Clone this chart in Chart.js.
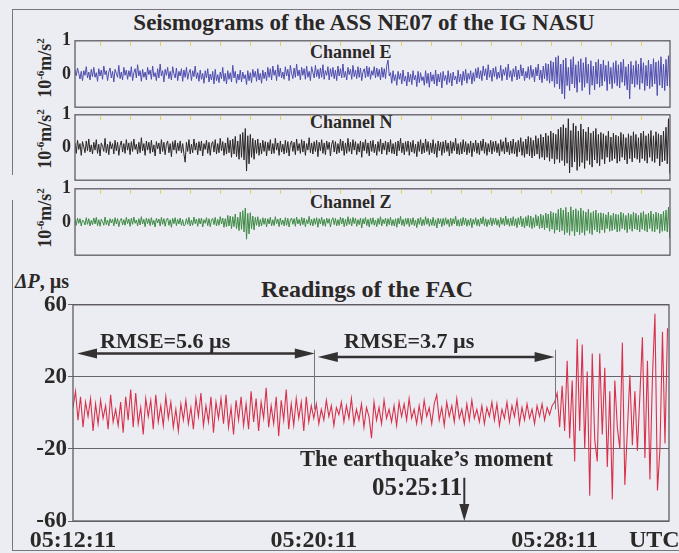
<!DOCTYPE html>
<html lang="en">
<head>
<meta charset="UTF-8">
<title>Seismograms of the ASS NE07 and readings of the FAC</title>
<script src="https://cdn.jsdelivr.net/npm/chart.js@4.4.4/dist/chart.umd.min.js"></script>
<style>
  html, body { margin: 0; padding: 0; }
  body {
    width: 679px; height: 553px; position: relative; overflow: hidden;
    background: #ecedf2; color: #2b2828;
    font-family: 'Liberation Serif', 'DejaVu Serif', serif; font-weight: bold;
  }
  canvas { position: absolute; left: 0; }
  .txt { position: absolute; white-space: nowrap; line-height: 1; }
  .unit { position: absolute; white-space: nowrap; line-height: 1; font-size: 18px; transform: translate(-50%, -50%) rotate(-90deg); }
  .unit sup { font-size: 11px; vertical-align: 7px; }
  .rule { position: absolute; background: #77767c; }
</style>
</head>
<body>

<div class="rule" style="left:12px; top:9px; width:667px; height:1px"></div>
<div class="rule" style="left:12px; top:9px; width:1px; height:166px"></div>
<div class="rule" style="left:12px; top:200px; width:1px; height:350px"></div>
<div class="rule" style="left:12px; top:550px; width:667px; height:1px"></div>

<div class="txt" style="left:364px; top:11px; font-size:23px; transform:translateX(-50%)">Seismograms of the ASS NE07 of the IG NASU</div>
<div class="txt" style="left:310px; top:43px; font-size:18px">Channel E</div>
<div class="txt" style="left:310px; top:113px; font-size:18px">Channel N</div>
<div class="txt" style="left:310px; top:193px; font-size:18px">Channel Z</div>

<div class="unit" style="left:44px; top:68px">10<sup>-6</sup>m/s<sup>2</sup></div>
<div class="unit" style="left:44px; top:139px">10<sup>-6</sup>m/s<sup>2</sup></div>
<div class="unit" style="left:44px; top:218px">10<sup>-6</sup>m/s<sup>2</sup></div>

<canvas id="chE" width="679" height="96" style="top:26px"></canvas>
<canvas id="chN" width="679" height="95" style="top:100px"></canvas>
<canvas id="chZ" width="679" height="96" style="top:174px"></canvas>

<div class="txt" style="left:15px; top:271px; font-size:20px"><i>ΔP</i>, µs</div>
<div class="txt" style="left:367px; top:277px; font-size:24px; transform:translateX(-50%)">Readings of the FAC</div>

<canvas id="fac" width="679" height="263" style="top:290px"></canvas>

<div class="txt" style="left:100px; top:330px; font-size:22px">RMSE=5.6 µs</div>
<div class="txt" style="left:344px; top:330px; font-size:22px">RMSE=3.7 µs</div>
<div class="txt" style="left:300px; top:448px; font-size:22.5px">The earthquake’s moment</div>
<div class="txt" style="left:372px; top:474px; font-size:25px">05:25:11</div>
<div class="txt" style="left:629px; top:527px; font-size:24px">UTC</div>

<script>
// time axis: seconds from 05:12:11 UTC
const TIME_SPAN_S = 1188;
const SEISMO_STEP_S = 2.5;
const FAC_STEP_S = 5;

const facTimeTicks = [0, 480, 960];
const facTimeLabels = ['05:12:11', '05:20:11', '05:28:11'];
const facValueTicks = [-60, -20, 20, 60];
const seismoValueTicks = [0, 1];

// RMSE brackets and the quake marker, in seconds and µs
const rmseSpans = [[8, 482], [488, 960]];
const rmseLevels = [33, 31];
const sectionBounds = [480, 960];
const quakeTime = 780;

// Channel E, 10^-6 m/s^2
const channelE = [
  0.12,-0.05,0.18,0.02,-0.15,0.08,-0.2,0.1,-0.04,0.22,-0.12,0.06,-0.18,0.14,
  -0.08,0.2,-0.1,0.04,-0.22,0.16,-0.06,0.12,-0.16,0.24,-0.02,0.1,-0.2,0.06,
  0.18,-0.12,0.08,-0.24,0.14,0.02,-0.1,0.26,-0.14,0.06,-0.18,0.2,-0.04,0.12,
  -0.16,0.1,-0.08,0.22,-0.2,0.04,0.16,-0.12,0.28,-0.06,0.1,-0.22,0.14,-0.1,
  0.06,-0.18,0.2,-0.02,0.12,-0.16,0.24,-0.08,0.04,-0.2,0.16,-0.12,0.3,-0.06,
  0.1,-0.24,0.14,-0.04,0.2,-0.14,0.08,-0.18,0.22,0.0,-0.12,0.18,-0.2,0.08,
  -0.06,0.16,-0.22,0.12,-0.1,0.2,-0.16,0.04,0.14,-0.2,0.1,-0.08,0.24,-0.14,
  0.04,-0.22,0.12,-0.16,0.02,-0.28,0.1,-0.12,0.16,-0.24,0.0,-0.18,0.08,-0.3,
  0.14,-0.2,-0.02,-0.26,0.06,-0.14,0.2,-0.22,0.02,-0.3,0.1,-0.16,0.04,-0.24,
  0.26,-0.12,0.08,-0.28,0.0,-0.18,0.12,-0.24,0.06,-0.14,-0.02,-0.32,0.1,-0.2,
  0.04,-0.26,0.14,-0.1,0.08,-0.22,0.16,-0.18,0.02,-0.28,0.12,-0.14,0.06,-0.2,
  0.2,-0.1,0.16,-0.18,0.24,-0.04,0.12,-0.2,0.28,-0.08,0.18,-0.12,0.06,-0.16,
  0.22,-0.06,0.14,-0.2,0.26,0.02,-0.14,0.18,-0.1,0.3,-0.06,0.12,-0.18,0.2,
  -0.04,0.16,-0.16,0.24,-0.1,0.08,-0.2,0.22,0.04,-0.12,0.26,-0.08,0.14,-0.14,
  0.18,-0.1,0.28,-0.16,0.1,-0.04,0.22,-0.18,0.16,-0.08,0.2,-0.14,0.12,-0.2,
  0.24,-0.06,0.16,-0.12,0.3,-0.1,0.08,-0.18,0.2,-0.02,0.14,-0.16,0.26,-0.08,
  0.12,-0.14,0.22,-0.1,0.18,-0.2,0.06,0.16,-0.12,0.24,-0.08,0.2,-0.16,0.1,
  -0.04,0.22,-0.12,0.18,-0.08,0.14,-0.18,0.2,-0.1,0.16,-0.14,0.26,0.42,-0.06,
  0.04,-0.28,0.1,-0.2,-0.02,-0.34,0.08,-0.16,0.02,-0.3,0.12,-0.22,-0.06,-0.36,
  0.06,-0.24,0.0,-0.32,0.1,-0.18,-0.04,-0.38,0.08,-0.26,0.04,-0.2,-0.08,-0.34,
  0.1,-0.28,0.02,-0.4,0.06,-0.22,-0.02,-0.3,0.12,-0.36,0.0,-0.24,0.04,-0.42,
  0.08,-0.2,-0.04,-0.32,0.1,-0.26,0.02,-0.36,0.06,-0.18,-0.06,-0.3,0.12,-0.24,
  0.0,-0.34,0.08,-0.2,0.14,-0.28,0.02,-0.16,0.1,-0.3,0.04,-0.22,0.16,-0.12,
  0.2,-0.14,0.1,-0.2,0.24,-0.06,0.16,-0.18,0.28,-0.1,0.12,-0.22,0.18,-0.08,
  0.22,-0.16,0.06,-0.12,0.26,-0.2,0.14,-0.04,0.2,-0.18,0.3,-0.1,0.1,-0.22,
  0.16,-0.08,0.24,-0.18,0.12,-0.14,0.28,-0.06,0.18,-0.2,0.08,-0.12,0.22,-0.16,
  0.26,-0.1,0.14,-0.24,0.2,-0.06,0.3,-0.18,0.12,-0.26,0.24,-0.14,0.32,-0.2,
  0.3,-0.28,0.4,-0.22,0.36,-0.4,0.5,-0.3,0.55,-0.45,0.3,-0.6,0.42,-0.75,
  0.48,-0.35,0.2,-0.5,0.44,-0.3,0.52,-0.42,0.28,-0.55,0.38,-0.25,0.46,-0.5,
  0.34,-0.4,0.5,-0.28,0.3,-0.62,0.4,-0.34,0.24,-0.48,0.36,-0.3,0.44,-0.4,
  0.3,-0.36,0.42,-0.22,0.26,-0.5,0.38,-0.3,0.2,-0.44,0.34,-0.28,0.4,-0.36,
  0.28,-0.42,0.36,-0.25,0.44,-0.35,0.22,-0.48,0.3,-0.75,0.38,-0.3,0.26,-0.4,
  0.4,-0.32,0.3,-0.46,0.48,-0.28,0.34,-0.5,0.26,-0.36,0.42,-0.44,0.3,-0.38,
  0.46,-0.3,0.36,-0.65,0.4,-0.34,0.52,-0.42,0.3,-0.5,0.44,-0.36,0.55,-0.4
];

// Channel N, 10^-6 m/s^2
const channelN = [
  0.14,-0.18,0.22,-0.06,0.12,-0.24,0.18,0.02,-0.16,0.2,-0.1,0.26,-0.14,0.08,
  -0.2,0.16,-0.08,0.24,-0.18,0.1,-0.26,0.14,0.04,-0.12,0.28,-0.16,0.1,-0.22,
  0.18,-0.04,0.12,-0.2,0.22,-0.1,0.16,-0.24,0.06,0.2,-0.14,0.12,-0.18,0.24,
  -0.08,0.14,-0.22,0.18,-0.12,0.26,-0.06,0.1,-0.2,0.16,-0.16,0.3,-0.1,0.12,
  -0.24,0.2,-0.08,0.16,-0.18,0.22,-0.14,0.08,-0.26,0.18,-0.04,0.14,-0.2,0.24,
  -0.12,0.16,-0.22,0.1,0.2,-0.16,0.12,-0.28,0.18,-0.08,0.22,-0.18,0.14,-0.1,
  0.2,-0.16,0.12,-0.2,-0.45,0.16,-0.12,0.24,-0.2,0.1,-0.16,0.26,-0.08,0.14,
  -0.22,0.18,-0.1,0.2,-0.26,0.12,-0.06,0.22,-0.18,0.16,-0.24,0.1,0.18,-0.14,
  0.24,-0.2,0.12,-0.16,0.28,-0.1,0.18,-0.24,0.14,-0.2,0.3,-0.16,0.22,-0.3,
  0.26,-0.2,0.34,-0.28,0.2,-0.36,0.4,-0.3,0.46,-0.38,0.58,-0.72,0.36,-0.5,
  0.4,-0.3,0.28,-0.36,0.22,-0.18,0.26,-0.24,0.14,-0.2,0.22,-0.12,0.18,-0.26,
  0.16,-0.1,0.24,-0.2,0.12,-0.18,0.28,-0.08,0.14,-0.24,0.2,-0.14,0.1,-0.2,
  0.22,-0.16,0.18,-0.26,0.1,0.2,-0.12,0.16,-0.22,0.26,-0.1,0.12,-0.18,0.24,
  -0.14,0.2,-0.24,0.12,-0.08,0.3,-0.16,0.14,-0.2,0.18,-0.12,0.22,-0.28,0.16,
  -0.1,0.24,-0.18,0.14,-0.22,0.2,-0.06,0.16,-0.26,0.1,0.22,-0.14,0.18,-0.2,
  0.12,-0.16,0.26,-0.1,0.2,-0.24,0.14,-0.18,0.28,-0.12,0.16,-0.2,0.24,-0.08,
  0.18,-0.22,0.12,-0.14,0.2,-0.3,0.16,-0.1,0.24,-0.18,0.14,-0.26,0.2,-0.12,
  0.22,-0.16,0.1,-0.24,0.18,-0.12,0.26,-0.2,0.14,-0.08,0.2,-0.22,0.16,-0.14,
  0.24,-0.18,0.12,-0.2,0.16,-0.26,0.2,-0.1,0.28,-0.16,0.14,-0.22,0.18,-0.12,
  0.2,-0.24,0.16,-0.14,0.22,-0.18,0.1,-0.28,0.18,-0.12,0.24,-0.2,0.14,-0.16,
  0.26,-0.12,0.18,-0.22,0.14,-0.16,0.24,-0.2,0.12,-0.3,0.2,-0.1,0.16,-0.24,
  0.18,-0.16,0.22,-0.12,0.14,-0.26,0.2,-0.18,0.16,-0.1,0.28,-0.2,0.12,-0.22,
  0.16,-0.2,0.24,-0.14,0.18,-0.22,0.12,-0.16,0.2,-0.28,0.14,-0.12,0.22,-0.18,
  0.14,-0.22,0.2,-0.1,0.26,-0.18,0.16,-0.24,0.12,-0.14,0.22,-0.2,0.18,-0.12,
  0.2,-0.16,0.12,-0.26,0.24,-0.12,0.18,-0.2,0.3,-0.14,0.16,-0.22,0.2,-0.18,
  0.26,-0.2,0.16,-0.28,0.22,-0.14,0.3,-0.24,0.18,-0.3,0.26,-0.2,0.34,-0.26,
  0.3,-0.32,0.22,-0.26,0.36,-0.2,0.28,-0.34,0.4,-0.3,0.32,-0.38,0.44,-0.3,
  0.36,-0.42,0.5,-0.34,0.44,-0.5,0.4,-0.36,0.56,-0.46,0.62,-0.4,0.7,-0.55,
  0.6,-0.48,0.88,-0.78,0.52,-0.6,0.74,-0.44,0.66,-0.7,0.5,-0.58,0.72,-0.46,
  0.56,-0.64,0.48,-0.4,0.62,-0.52,0.44,-0.6,0.5,-0.38,0.58,-0.48,0.4,-0.56,
  0.46,-0.36,0.42,-0.5,0.36,-0.3,0.5,-0.44,0.32,-0.4,0.44,-0.34,0.38,-0.48,
  0.34,-0.42,0.46,-0.3,0.4,-0.38,0.3,-0.5,0.42,-0.34,0.36,-0.44,0.48,-0.32,
  0.4,-0.36,0.3,-0.46,0.44,-0.34,0.5,-0.4,0.36,-0.48,0.42,-0.3,0.52,-0.42,
  0.36,-0.46,0.48,-0.34,0.42,-0.56,0.38,-0.44,0.5,-0.4,0.62,-0.5,0.88,-0.8
];

// Channel Z, 10^-6 m/s^2
const channelZ = [
  0.08,-0.1,0.12,-0.04,0.1,-0.12,0.06,0.02,-0.09,0.13,-0.07,0.1,-0.12,0.05,
  -0.08,0.12,-0.06,0.14,-0.11,0.07,-0.13,0.09,0.01,-0.1,0.15,-0.08,0.06,-0.12,
  0.1,-0.03,0.08,-0.12,0.13,-0.06,0.1,-0.14,0.04,0.11,-0.09,0.07,-0.1,0.14,
  -0.05,0.09,-0.13,0.11,-0.07,0.15,-0.04,0.06,-0.12,0.1,-0.09,0.16,-0.06,0.08,
  -0.14,0.12,-0.05,0.1,-0.11,0.13,-0.08,0.05,-0.15,0.11,-0.03,0.09,-0.12,0.14,
  -0.07,0.1,-0.13,0.06,0.12,-0.1,0.07,-0.16,0.11,-0.05,0.13,-0.11,0.08,-0.06,
  0.12,-0.1,0.07,-0.12,-0.08,0.1,-0.07,0.14,-0.12,0.06,-0.1,0.15,-0.05,0.09,
  -0.13,0.11,-0.06,0.12,-0.15,0.07,-0.04,0.13,-0.11,0.1,-0.14,0.06,0.11,-0.08,
  0.14,-0.12,0.08,-0.1,0.16,-0.06,0.12,-0.16,0.1,-0.14,0.2,-0.12,0.18,-0.2,
  0.16,-0.14,0.24,-0.2,0.14,-0.26,0.3,-0.22,0.34,-0.3,0.42,-0.52,0.26,-0.36,
  0.28,-0.2,0.18,-0.24,0.14,-0.1,0.16,-0.14,0.08,-0.12,0.13,-0.07,0.11,-0.15,
  0.1,-0.06,0.14,-0.12,0.07,-0.11,0.16,-0.05,0.09,-0.14,0.12,-0.08,0.06,-0.12,
  0.13,-0.1,0.11,-0.15,0.06,0.12,-0.07,0.1,-0.13,0.15,-0.06,0.08,-0.11,0.14,
  -0.08,0.12,-0.14,0.07,-0.05,0.17,-0.1,0.08,-0.12,0.11,-0.07,0.13,-0.16,0.1,
  -0.06,0.14,-0.11,0.08,-0.13,0.12,-0.04,0.1,-0.15,0.06,0.13,-0.08,0.11,-0.12,
  0.07,-0.1,0.15,-0.06,0.12,-0.14,0.08,-0.11,0.16,-0.07,0.1,-0.12,0.14,-0.05,
  0.11,-0.13,0.07,-0.08,0.12,-0.18,0.1,-0.06,0.14,-0.11,0.08,-0.15,0.12,-0.07,
  0.13,-0.1,0.06,-0.14,0.11,-0.07,0.16,-0.12,0.08,-0.05,0.12,-0.13,0.1,-0.08,
  0.14,-0.11,0.07,-0.12,0.1,-0.16,0.12,-0.06,0.17,-0.1,0.08,-0.13,0.11,-0.07,
  0.12,-0.14,0.1,-0.08,0.13,-0.11,0.06,-0.17,0.11,-0.07,0.14,-0.12,0.08,-0.1,
  0.16,-0.07,0.11,-0.13,0.08,-0.1,0.14,-0.12,0.07,-0.18,0.12,-0.06,0.1,-0.14,
  0.11,-0.1,0.13,-0.07,0.08,-0.15,0.12,-0.11,0.1,-0.06,0.17,-0.12,0.07,-0.13,
  0.1,-0.12,0.14,-0.08,0.11,-0.13,0.07,-0.1,0.12,-0.17,0.08,-0.07,0.13,-0.11,
  0.08,-0.13,0.12,-0.06,0.16,-0.11,0.1,-0.14,0.07,-0.08,0.13,-0.12,0.11,-0.07,
  0.12,-0.1,0.07,-0.16,0.14,-0.07,0.11,-0.12,0.18,-0.08,0.1,-0.13,0.12,-0.11,
  0.16,-0.12,0.1,-0.17,0.13,-0.08,0.18,-0.14,0.11,-0.18,0.16,-0.12,0.2,-0.16,
  0.18,-0.2,0.13,-0.16,0.22,-0.12,0.17,-0.2,0.24,-0.18,0.2,-0.23,0.27,-0.18,
  0.24,-0.28,0.32,-0.22,0.28,-0.34,0.26,-0.24,0.38,-0.3,0.42,-0.26,0.36,-0.38,
  0.44,-0.32,0.3,-0.4,0.46,-0.28,0.36,-0.42,0.4,-0.3,0.34,-0.38,0.42,-0.32,
  0.34,-0.4,0.3,-0.26,0.38,-0.34,0.28,-0.38,0.32,-0.24,0.36,-0.3,0.26,-0.34,
  0.28,-0.24,0.26,-0.32,0.22,-0.2,0.3,-0.28,0.2,-0.26,0.27,-0.22,0.24,-0.3,
  0.22,-0.28,0.3,-0.2,0.26,-0.24,0.2,-0.32,0.27,-0.22,0.23,-0.28,0.3,-0.21,
  0.26,-0.24,0.2,-0.3,0.28,-0.22,0.32,-0.26,0.23,-0.3,0.27,-0.2,0.33,-0.28,
  0.24,-0.3,0.3,-0.22,0.27,-0.34,0.24,-0.28,0.32,-0.26,0.36,-0.3,0.45,-0.5
];

// FAC readings, ΔP in µs
const facDeltaP = [
  3,12,-4,9,-8,6,-2,8,-10,5,-6,7,
  -3,4,-9,10,-5,2,-7,6,-11,9,-4,13,
  -8,11,-6,3,-12,8,-2,7,-9,10,-5,4,
  -7,9,-3,6,-8,2,-10,5,-4,7,-6,3,
  -9,8,-2,11,-7,4,-5,9,-11,6,-3,8,
  -6,10,-8,3,-12,7,-4,9,-7,5,-9,12,
  -5,8,-10,6,-3,14,-8,4,-6,9,-13,7,
  -4,13,-9,5,-7,8,-3,6,-10,9,-5,4,
  -3,5,-6,2,-4,7,-2,4,-7,3,-1,6,
  -5,4,-3,8,-6,2,-4,5,-8,3,-2,-14,
  6,-4,3,-6,7,-3,2,-5,4,-7,6,-2,
  5,-4,8,-3,2,-6,4,-5,7,-2,3,-6,
  5,10,-4,3,-7,6,-2,4,-5,8,-3,2,
  -6,5,-4,7,-3,2,-5,4,-6,3,-2,6,
  -4,5,-7,2,-3,6,-5,4,-2,7,-6,3,
  -4,5,-3,2,-6,4,-2,5,-4,3,-1,4,
  6,11,-8,15,-10,29,-14,18,-27,41,-10,38,
  -20,23,-46,33,-15,-27,33,-12,25,-30,12,-48,
  18,-8,-20,39,-40,-10,21,-18,12,-21,10,42,
  -25,29,-37,20,55,-43,-20,45,-17,47
];

const SERIF = 'Liberation Serif';

function toPoints(values, step) {
    return values.map((v, i) => ({ x: i * step, y: v }));
}

function drawArrowHead(ctx, tipX, tipY, dirX, dirY, len, half) {
    const bx = tipX - dirX * len;
    const by = tipY - dirY * len;
    ctx.beginPath();
    ctx.moveTo(tipX, tipY);
    ctx.lineTo(bx - dirY * half, by + dirX * half);
    ctx.lineTo(bx + dirY * half, by - dirX * half);
    ctx.closePath();
    ctx.fill();
}

// box round the plot area, plus the yellow minute marks on the seismograms
const panelFrame = {
    id: 'panelFrame',
    afterDatasetsDraw(chart, args, opts) {
        const { ctx, chartArea: a } = chart;
        ctx.save();
        ctx.strokeStyle = '#5f5c62';
        ctx.lineWidth = 1.3;
        ctx.strokeRect(a.left, a.top, a.right - a.left, a.bottom - a.top);
        if (opts.minuteMarks) {
            ctx.strokeStyle = '#e2d247';
            ctx.lineWidth = 1;
            for (let t = 50; t < TIME_SPAN_S; t += 60) {
                const px = Math.round(chart.scales.x.getPixelForValue(t)) + 0.5;
                ctx.beginPath();
                ctx.moveTo(px, a.top + 1);
                ctx.lineTo(px, a.top + 5);
                ctx.stroke();
            }
        }
        ctx.restore();
    },
};

const facMarks = {
    id: 'facMarks',
    afterDatasetsDraw(chart) {
        const { ctx } = chart;
        const xs = chart.scales.x;
        const ys = chart.scales.y;
        ctx.save();

        ctx.strokeStyle = '#77767c';
        ctx.lineWidth = 1;
        sectionBounds.forEach((t) => {
            const px = Math.round(xs.getPixelForValue(t)) + 0.5;
            ctx.beginPath();
            ctx.moveTo(px, ys.getPixelForValue(35));
            ctx.lineTo(px, ys.getPixelForValue(2));
            ctx.stroke();
        });

        ctx.strokeStyle = '#343132';
        ctx.fillStyle = '#343132';
        ctx.lineWidth = 2.5;
        rmseSpans.forEach(([t0, t1], k) => {
            const x0 = xs.getPixelForValue(t0);
            const x1 = xs.getPixelForValue(t1);
            const py = ys.getPixelForValue(rmseLevels[k]);
            ctx.beginPath();
            ctx.moveTo(x0 + 10, py);
            ctx.lineTo(x1 - 10, py);
            ctx.stroke();
            drawArrowHead(ctx, x0, py, -1, 0, 20, 5);
            drawArrowHead(ctx, x1, py, 1, 0, 20, 5);
        });

        const qx = xs.getPixelForValue(quakeTime);
        const qTop = ys.getPixelForValue(-36);
        const qTip = ys.getPixelForValue(-60);
        ctx.lineWidth = 2;
        ctx.beginPath();
        ctx.moveTo(qx, qTop);
        ctx.lineTo(qx, qTip - 10);
        ctx.stroke();
        drawArrowHead(ctx, qx, qTip, 0, 1, 17, 5);

        ctx.restore();
    },
};

function makeSeismoPanel(canvasId, values, color) {
    return new Chart(document.getElementById(canvasId), {
        type: 'line',
        data: {
            datasets: [{
                data: toPoints(values, SEISMO_STEP_S),
                borderColor: color,
                borderWidth: 1,
                pointRadius: 0,
                tension: 0,
            }],
        },
        options: {
            responsive: false,
            animation: false,
            events: [],
            layout: { padding: { top: 12, bottom: 12, right: 9, left: 0 } },
            plugins: {
                legend: { display: false },
                tooltip: { enabled: false },
                panelFrame: { minuteMarks: true },
            },
            scales: {
                x: { type: 'linear', min: 0, max: TIME_SPAN_S, display: false },
                y: {
                    min: -1,
                    max: 1,
                    afterBuildTicks: (scale) => { scale.ticks = seismoValueTicks.map((v) => ({ value: v })); },
                    afterFit: (scale) => { scale.width = 75; },
                    grid: { display: false, drawTicks: false },
                    border: { display: false },
                    ticks: {
                        padding: 4,
                        color: '#2b2828',
                        font: { family: SERIF, weight: 'bold', size: 18 },
                    },
                },
            },
        },
        plugins: [panelFrame],
    });
}

makeSeismoPanel('chE', channelE, '#4e4cae');
makeSeismoPanel('chN', channelN, '#2c2727');
makeSeismoPanel('chZ', channelZ, '#3e8a45');

new Chart(document.getElementById('fac'), {
    type: 'line',
    data: {
        datasets: [{
            data: toPoints(facDeltaP, FAC_STEP_S),
            borderColor: '#d8314c',
            borderWidth: 1.1,
            pointRadius: 0,
            tension: 0,
        }],
    },
    options: {
        responsive: false,
        animation: false,
        events: [],
        layout: { padding: { top: 14, right: 10, left: 0, bottom: 0 } },
        plugins: {
            legend: { display: false },
            tooltip: { enabled: false },
            panelFrame: { minuteMarks: false },
        },
        scales: {
            x: {
                type: 'linear',
                min: 0,
                max: TIME_SPAN_S,
                afterBuildTicks: (scale) => { scale.ticks = facTimeTicks.map((v) => ({ value: v })); },
                afterFit: (scale) => { scale.height = 32; },
                grid: { display: false, drawTicks: false },
                border: { display: false },
                ticks: {
                    autoSkip: false,
                    maxRotation: 0,
                    padding: 5,
                    color: '#2b2828',
                    font: { family: SERIF, weight: 'bold', size: 24 },
                    callback: (value) => facTimeLabels[facTimeTicks.indexOf(value)],
                },
            },
            y: {
                min: -60,
                max: 60,
                afterBuildTicks: (scale) => { scale.ticks = facValueTicks.map((v) => ({ value: v })); },
                afterFit: (scale) => { scale.width = 73; },
                grid: { color: '#66646a', lineWidth: 1, tickLength: 5 },
                border: { display: false },
                ticks: {
                    padding: 1,
                    color: '#2b2828',
                    font: { family: SERIF, weight: 'bold', size: 23 },
                },
            },
        },
    },
    plugins: [panelFrame, facMarks],
});
</script>
</body>
</html>
